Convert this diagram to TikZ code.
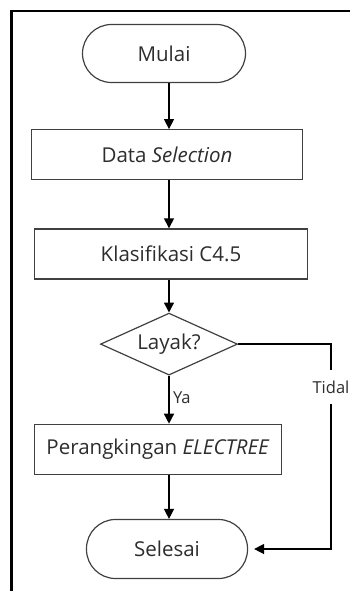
\documentclass[tikz,border=0pt]{standalone}
\usepackage{fontspec}
\setmainfont{Open Sans}
\usepackage{tikz}
\usetikzlibrary{arrows.meta,positioning,shapes.geometric}
\definecolor{edge}{RGB}{64,64,64}
\definecolor{ink}{RGB}{45,45,45}

\begin{document}
\begin{tikzpicture}[
  font=\fontsize{20.5}{24}\selectfont, text=ink,
  terminal/.style={draw=edge, line width=1.2pt, rounded corners=29pt, minimum width=163pt, minimum height=58pt},
  proc/.style={draw=edge, line width=1.2pt, minimum height=50pt},
  decision/.style={diamond, aspect=2.2, draw=edge, line width=1.2pt, minimum width=137pt, minimum height=62pt, inner sep=0pt},
  lbl/.style={font=\fontsize{16.5}{19}\selectfont},
  arr/.style={-{Triangle[length=10pt,width=10pt]}, line width=1.4pt}
]
\useasboundingbox (0,0) rectangle (350pt,-591pt);
\draw[line width=2.5pt] (11.5pt,-591pt) -- (11.5pt,-11pt) -- (350pt,-11pt);
\coordinate (spine) at (169pt,0);
\coordinate (side) at (331pt,0);
\node[terminal] (mulai) at (164pt,-53.5pt) {Mulai};
\node[proc, minimum width=271pt, below=46pt of mulai, xshift=3pt] (seleksi) {Data \textit{Selection}};
\node[proc, minimum width=273pt, below=48pt of seleksi, xshift=4pt] (klasifikasi) {Klasifikasi C4.5};
\node[decision, below=33pt of klasifikasi, xshift=-2pt] (layak) {Layak?};
\node[proc, minimum width=247pt, below=48pt of layak, xshift=-11pt] (ranking) {Perangkingan \textit{ELECTREE}};
\node[terminal, minimum width=161pt, minimum height=59pt, below=44pt of ranking, xshift=9pt] (selesai) {Selesai};
\draw[arr] (mulai.south -| spine) -- (seleksi.north -| spine);
\draw[arr] (seleksi.south -| spine) -- (klasifikasi.north -| spine);
\draw[arr] (klasifikasi.south -| spine) -- (layak.north);
\draw[arr] (layak.south) -- node[lbl, pos=0.45, right]{Ya} (layak.south |- ranking.north);
\draw[arr] (ranking.south -| spine) -- (selesai.north -| spine);
\draw[arr, shorten >=6pt] (layak.east) -- (layak.east -| side)
  -- node[lbl, fill=white, pos=0.21, inner ysep=11pt]{Tidal} (selesai.east -| side) -- (selesai.east);
\end{tikzpicture}
\end{document}
